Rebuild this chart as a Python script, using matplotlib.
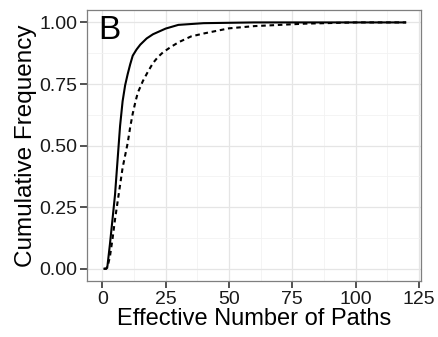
import matplotlib
matplotlib.use("Agg")
import matplotlib.pyplot as plt

# ECDF of effective number of paths
solid_x = [0.5, 1.5, 2, 3, 4, 5, 6, 7, 8, 9, 10, 11, 12, 13.5, 15, 17.5, 20, 25, 30, 40, 60, 120]
solid_y = [0.0, 0.0, 0.01, 0.1, 0.2, 0.3, 0.44, 0.58, 0.68, 0.745, 0.79, 0.83, 0.865, 0.89, 0.91, 0.935,
           0.952, 0.975, 0.99, 0.997, 1.0, 1.0]

dashed_x = [0.5, 1.5, 2, 3, 4, 5, 6, 7, 8, 9, 10, 11, 12, 13, 14, 15, 16, 18, 20, 22, 24, 27, 30, 35, 40,
            50, 60, 70, 80, 100, 120]
dashed_y = [0.0, 0.0, 0.005, 0.05, 0.12, 0.2, 0.27, 0.34, 0.41, 0.46, 0.51, 0.575, 0.63, 0.675, 0.715,
            0.738, 0.762, 0.80, 0.835, 0.86, 0.879, 0.90, 0.919, 0.943, 0.955, 0.976, 0.985, 0.99, 0.995,
            1.0, 1.0]

x_ticks = [0, 25, 50, 75, 100, 125]
y_ticks = [0.0, 0.25, 0.5, 0.75, 1.0]
y_labels = ["0.00", "0.25", "0.50", "0.75", "1.00"]

plt.rcParams["font.family"] = ["Liberation Sans", "DejaVu Sans"]

fig = plt.figure(figsize=(4.38, 3.37), dpi=100)
ax = fig.add_axes([0.199, 0.166, 0.763, 0.804])

ax.plot(solid_x, solid_y, color="black", lw=1.5, solid_capstyle="butt")
ax.plot(dashed_x, dashed_y, color="black", lw=1.5, linestyle=(0, (2.2, 1.8)))

ax.set_xlim(-6, 126)
ax.set_ylim(-0.05, 1.05)
ax.set_xticks(x_ticks)
ax.set_yticks(y_ticks)
ax.set_yticklabels(y_labels)
ax.set_xticks([12.5, 37.5, 62.5, 87.5, 112.5], minor=True)
ax.set_yticks([0.125, 0.375, 0.625, 0.875], minor=True)

ax.grid(True, which="major", color="#e5e5e5", lw=0.9)
ax.grid(True, which="minor", color="#f2f2f2", lw=0.6)
ax.set_axisbelow(True)

for s in ax.spines.values():
    s.set_color("#7f7f7f")
    s.set_linewidth(0.9)

ax.tick_params(which="major", direction="out", length=5, width=1.2, color="#333333",
               labelsize=14, labelcolor="#1a1a1a", pad=2)
ax.tick_params(which="minor", length=0)

ax.set_xlabel("Effective Number of Paths", fontsize=17, labelpad=0)
ax.set_ylabel("Cumulative Frequency", fontsize=17.5, labelpad=2)

ax.text(0.033, 0.893, "B", transform=ax.transAxes, fontsize=24, va="baseline", ha="left")

fig.savefig("out.png", dpi=100)
